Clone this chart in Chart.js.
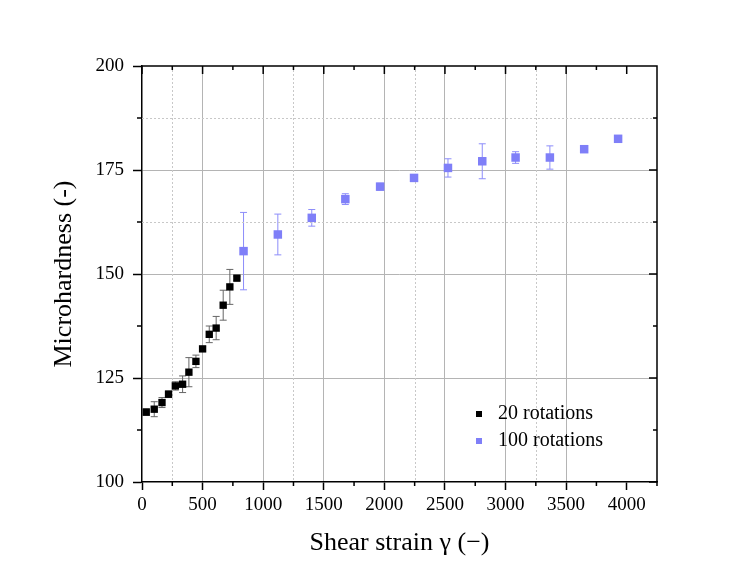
<!DOCTYPE html>
<html>
<head>
<meta charset="utf-8">
<script src="https://cdn.jsdelivr.net/npm/chart.js@4.4.1/dist/chart.umd.min.js"></script>
<style>
  html, body { margin: 0; padding: 0; background: #fff; }
  #wrap { width: 748px; height: 576px; }
</style>
</head>
<body>
<div id="wrap"><canvas id="chart" width="748" height="576"></canvas></div>
<script>
// values
const strain20 = [35, 101, 165, 219, 275, 335, 387, 445, 500, 555, 612, 670, 725, 783];
const hardness20 = [116.8, 117.5, 119.1, 121.1, 123.1, 123.5, 126.4, 129.0, 132.0, 135.5, 137.0, 142.5, 146.9, 149.0];
const err20 = [0.8, 1.8, 1.2, 0.8, 1.0, 2.0, 3.5, 1.5, 0.5, 2.0, 2.8, 3.6, 4.2, 0.5];

const strain100 = [838, 1121, 1401, 1678, 1965, 2245, 2525, 2808, 3083, 3366, 3649, 3929];
const hardness100 = [155.5, 159.5, 163.5, 168.0, 171.0, 173.1, 175.5, 177.1, 178.0, 178.0, 180.0, 182.5];
const err100 = [9.3, 4.9, 2.0, 1.3, 0.8, 0.8, 2.2, 4.2, 1.4, 2.8, 0, 0];

const seriesLabels = ['20 rotations', '100 rotations'];
const xTicks = [0, 500, 1000, 1500, 2000, 2500, 3000, 3500, 4000];
const yTicks = [100, 125, 150, 175, 200];
const minorGridX = [250, 1250, 2250, 3250];
const minorGridY = [162.5, 187.5];

const SERIF = "'Liberation Serif', 'DejaVu Serif', serif";
const BLUE = '#7f7ff8';

const toPoints = (xs, ys) => xs.map((x, i) => ({ x: x, y: ys[i] }));

// vertical error bars, drawn under the markers
const errorBars = {
    id: 'errorBars',
    beforeDatasetsDraw(chart) {
        const ctx = chart.ctx;
        const ys = chart.scales.y;
        chart.data.datasets.forEach((ds, i) => {
            const meta = chart.getDatasetMeta(i);
            ctx.save();
            ctx.strokeStyle = ds.errColor;
            ctx.lineWidth = 1;
            meta.data.forEach((pt, j) => {
                const e = ds.errors[j];
                if (!e) return;
                const v = ds.data[j].y;
                const top = ys.getPixelForValue(v + e);
                const bot = ys.getPixelForValue(v - e);
                ctx.beginPath();
                ctx.moveTo(pt.x, top); ctx.lineTo(pt.x, bot);
                ctx.moveTo(pt.x - 3.5, top); ctx.lineTo(pt.x + 3.5, top);
                ctx.moveTo(pt.x - 3.5, bot); ctx.lineTo(pt.x + 3.5, bot);
                ctx.stroke();
            });
            ctx.restore();
        });
    }
};

// dotted minor grid, box frame, minor ticks and mirrored ticks
const frame = {
    id: 'frame',
    beforeDatasetsDraw(chart) {
        const { ctx, chartArea: a, scales: { x, y } } = chart;
        ctx.save();
        ctx.strokeStyle = '#c8c8c8';
        ctx.lineWidth = 1;
        ctx.setLineDash([2, 2]);
        ctx.beginPath();
        minorGridX.forEach(v => {
            const px = Math.round(x.getPixelForValue(v)) + 0.5;
            ctx.moveTo(px, a.top); ctx.lineTo(px, a.bottom);
        });
        minorGridY.forEach(v => {
            const py = Math.round(y.getPixelForValue(v)) + 0.5;
            ctx.moveTo(a.left, py); ctx.lineTo(a.right, py);
        });
        ctx.stroke();
        ctx.restore();
    },
    afterDraw(chart) {
        const { ctx, chartArea: a, scales: { x, y } } = chart;
        ctx.save();
        ctx.strokeStyle = '#000';
        ctx.lineWidth = 1.5;
        ctx.beginPath();
        ctx.moveTo(a.left, a.top); ctx.lineTo(a.right, a.top); ctx.lineTo(a.right, a.bottom);
        // x ticks: major every 500, minor every 250
        for (let v = 0; v <= 4250; v += 250) {
            const px = x.getPixelForValue(v);
            const major = v % 500 === 0;
            ctx.moveTo(px, a.top); ctx.lineTo(px, a.top + (major ? 8 : 4));
            if (!major) { ctx.moveTo(px, a.bottom); ctx.lineTo(px, a.bottom + 4); }
        }
        for (let v = 100; v <= 200; v += 12.5) {
            const py = y.getPixelForValue(v);
            const major = v % 25 === 0;
            ctx.moveTo(a.right, py); ctx.lineTo(a.right - (major ? 8 : 4), py);
            if (!major) { ctx.moveTo(a.left, py); ctx.lineTo(a.left - 5, py); }
        }
        ctx.stroke();

        // legend inside the plot area
        ctx.font = '20px ' + SERIF;
        ctx.textBaseline = 'middle';
        ctx.fillStyle = '#000';
        chart.data.datasets.forEach((ds, i) => {
            const mx = a.right - 178;
            const my = a.bottom - 68 + i * 27;
            ctx.fillStyle = ds.backgroundColor;
            ctx.fillRect(mx - 3, my - 3, 6, 6);
            ctx.fillStyle = '#000';
            ctx.fillText(ds.label, mx + 19, my);
        });
        ctx.restore();
    }
};

new Chart(document.getElementById('chart'), {
    type: 'scatter',
    data: {
        datasets: [
            {
                label: seriesLabels[0],
                data: toPoints(strain20, hardness20),
                errors: err20,
                errColor: '#666',
                backgroundColor: '#000',
                borderColor: '#000',
                pointStyle: 'rect',
                pointRadius: 5.2,
                borderWidth: 0
            },
            {
                label: seriesLabels[1],
                data: toPoints(strain100, hardness100),
                errors: err100,
                errColor: '#8d8dfa',
                backgroundColor: BLUE,
                borderColor: BLUE,
                pointStyle: 'rect',
                pointRadius: 6,
                borderWidth: 0
            }
        ]
    },
    options: {
        responsive: false,
        animation: false,
        devicePixelRatio: 1,
        layout: { padding: { left: 49, right: 91, top: 66, bottom: 17 } },
        plugins: {
            legend: { display: false },
            tooltip: { enabled: false }
        },
        scales: {
            x: {
                type: 'linear',
                min: 0,
                max: 4250,
                afterFit: s => { s.height = 77; },
                afterBuildTicks: s => { s.ticks = xTicks.map(v => ({ value: v })); },
                ticks: {
                    includeBounds: false,
                    color: '#000',
                    padding: 4,
                    callback: v => String(v),
                    font: { family: SERIF, size: 19, lineHeight: 1.2 }
                },
                grid: {
                    color: c => (c.tick && (c.tick.value === 0 || c.tick.value === 4000)) ? 'rgba(0,0,0,0)' : '#b4b4b4',
                    lineWidth: 1,
                    tickLength: 8,
                    tickColor: '#000',
                    tickWidth: 1.5
                },
                border: { color: '#000', width: 1.5 },
                title: {
                    display: true,
                    text: 'Shear strain γ (−)',
                    color: '#000',
                    padding: 0,
                    font: { family: SERIF, size: 26, lineHeight: 1.2 }
                }
            },
            y: {
                min: 100,
                max: 200,
                afterFit: s => { s.width = 93; },
                afterBuildTicks: s => { s.ticks = yTicks.map(v => ({ value: v })); },
                ticks: {
                    color: '#000',
                    padding: 9,
                    callback: v => String(v),
                    font: { family: SERIF, size: 19, lineHeight: 1.2 }
                },
                grid: {
                    color: c => (c.tick && (c.tick.value === 100 || c.tick.value === 200)) ? 'rgba(0,0,0,0)' : '#b4b4b4',
                    lineWidth: 1,
                    tickLength: 9,
                    tickColor: '#000',
                    tickWidth: 1.5
                },
                border: { color: '#000', width: 1.5 },
                title: {
                    display: true,
                    text: 'Microhardness (-)',
                    color: '#000',
                    padding: 0,
                    font: { family: SERIF, size: 26, lineHeight: 1.2 }
                }
            }
        }
    },
    plugins: [errorBars, frame]
});
</script>
</body>
</html>
